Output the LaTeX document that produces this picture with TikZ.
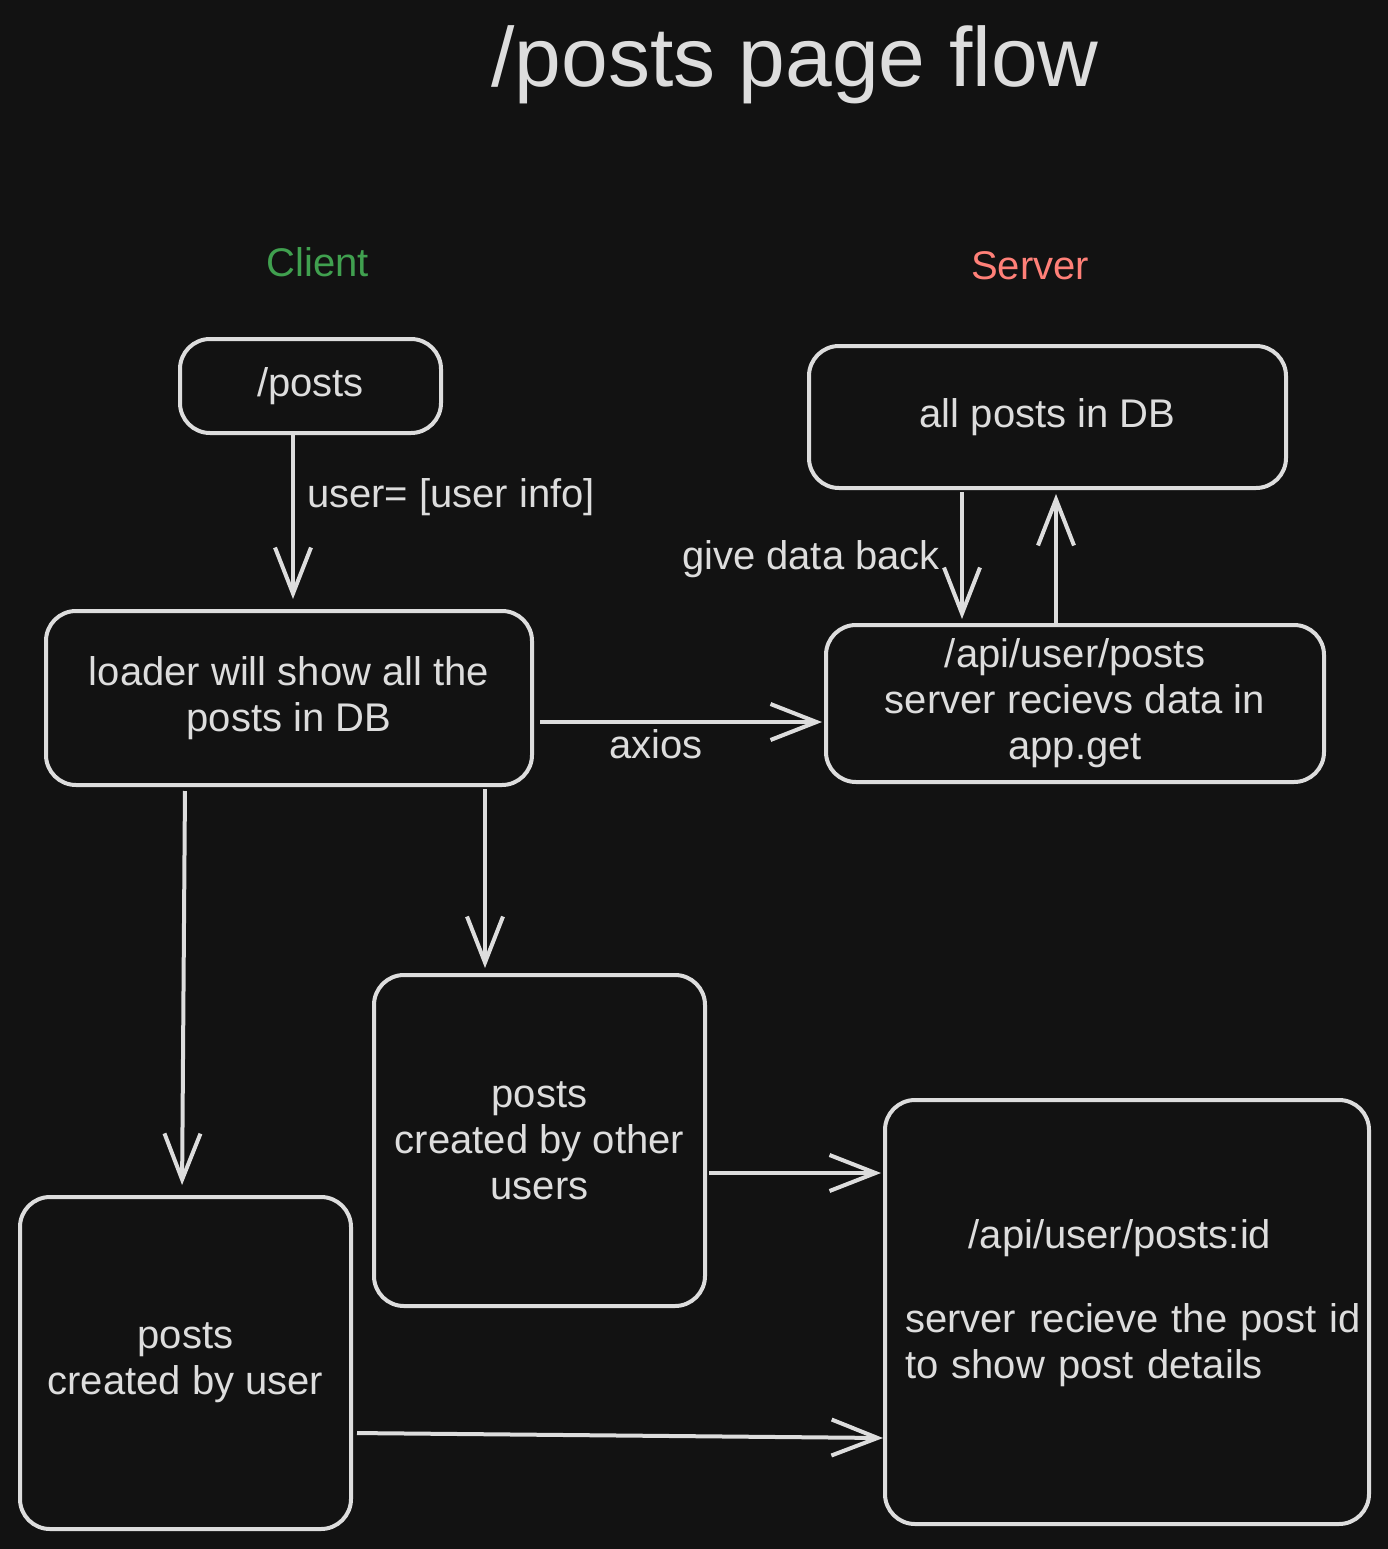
\documentclass[tikz,border=0pt]{standalone}
\usepackage{fontspec}
\setmainfont{Liberation Sans}
\usepackage{tikz}
\usetikzlibrary{arrows.meta}
\definecolor{bgdark}{HTML}{121212}
\definecolor{ink}{HTML}{DDDDDD}
\definecolor{clientgreen}{HTML}{40A04F}
\definecolor{serverred}{HTML}{FF8078}
\tikzset{flow box/.style={draw=ink,line width=4pt,rounded corners=30pt,inner sep=0pt,align=center,text=ink,font=\fontsize{40}{46}\selectfont},
  side label/.style={font=\fontsize{40}{46}\selectfont},}

\begin{document}
\begin{tikzpicture}[x=1pt, y=-1pt, line width=4pt, draw=ink, text=ink]
    \fill[bgdark] (0,0) rectangle (1388,1549);
    \useasboundingbox (0,0) rectangle (1388,1549);

    % title and sides
    \node (title) at (795,65) {\fontsize{84}{90}\selectfont /posts page flow};
    \node[side label, text=clientgreen] (client) at (318,262) {Client};
    \node[side label, text=serverred] (server) at (1030,266) {Server};

    % client boxes
    \node[flow box, minimum width=261pt, minimum height=94pt] (posts) at (310.5,386) {/posts};
    \node[flow box, minimum width=486pt, minimum height=174pt] (loader) at (289,698) {loader will show all the\\posts in DB};
    \node[flow box, minimum width=331pt, minimum height=331pt] (others) at (539.5,1140.5) {posts\\created by other\\users};
    \node[flow box, minimum width=331pt, minimum height=332pt] (mine) at (185.5,1363) {posts\\created by user};

    % server boxes
    \node[flow box, minimum width=477pt, minimum height=142pt] (db) at (1047.5,417) {all posts in DB};
    \node[flow box, minimum width=498pt, minimum height=157pt] (api) at (1075,703.5) {/api/user/posts\\server recievs data in\\app.get};
    \node[flow box, minimum width=484pt, minimum height=424pt,
      label={[name=detailtext, xshift=18pt, yshift=9pt, align=left, text width=480pt, text=ink, font=\fontsize{40}{46}\selectfont]center:\makebox[\linewidth][c]{\hspace*{-50pt}/api/user/posts:id}\\[38pt]server recieve the post id\\to show post details}] (detail) at (1127,1312) {};

    \path[draw, every edge/.append style={-{Straight Barb[length=46pt,width=36pt]}}]
    ([xshift=-17.5pt]posts.south) edge[shorten >=10pt] node[right, pos=0.36, side label, inner sep=12pt] {user= [user info]} ([xshift=4pt]loader.north)
    ([yshift=-24pt]loader.east) edge[shorten <=6pt, shorten >=2pt] node[pos=0.42, yshift=-22pt, side label] {axios} ([yshift=-18.5pt]api.west)
    ([xshift=-85.5pt]db.south) edge[shorten <=2pt, shorten >=4pt] node[left, pos=0.52, side label, inner sep=20pt] {give data back} ([xshift=-113pt]api.north)
    ([xshift=-19pt]api.north) edge[shorten >=4pt] ([xshift=8.5pt]db.south)
    ([xshift=196pt]loader.south) edge[shorten <=2pt, shorten >=5pt] ([xshift=-54.5pt]others.north)
    ([xshift=-104pt]loader.south) edge[shorten <=4pt, shorten >=10pt] ([xshift=-3.5pt]mine.north)
    ([yshift=-32.5pt]others.east) edge[shorten <=2pt, shorten >=2pt] ([yshift=139pt]detail.west)
    ([yshift=-70pt]mine.east) edge[shorten <=4pt] ([yshift=-126pt]detail.west);
\end{tikzpicture}
\end{document}
